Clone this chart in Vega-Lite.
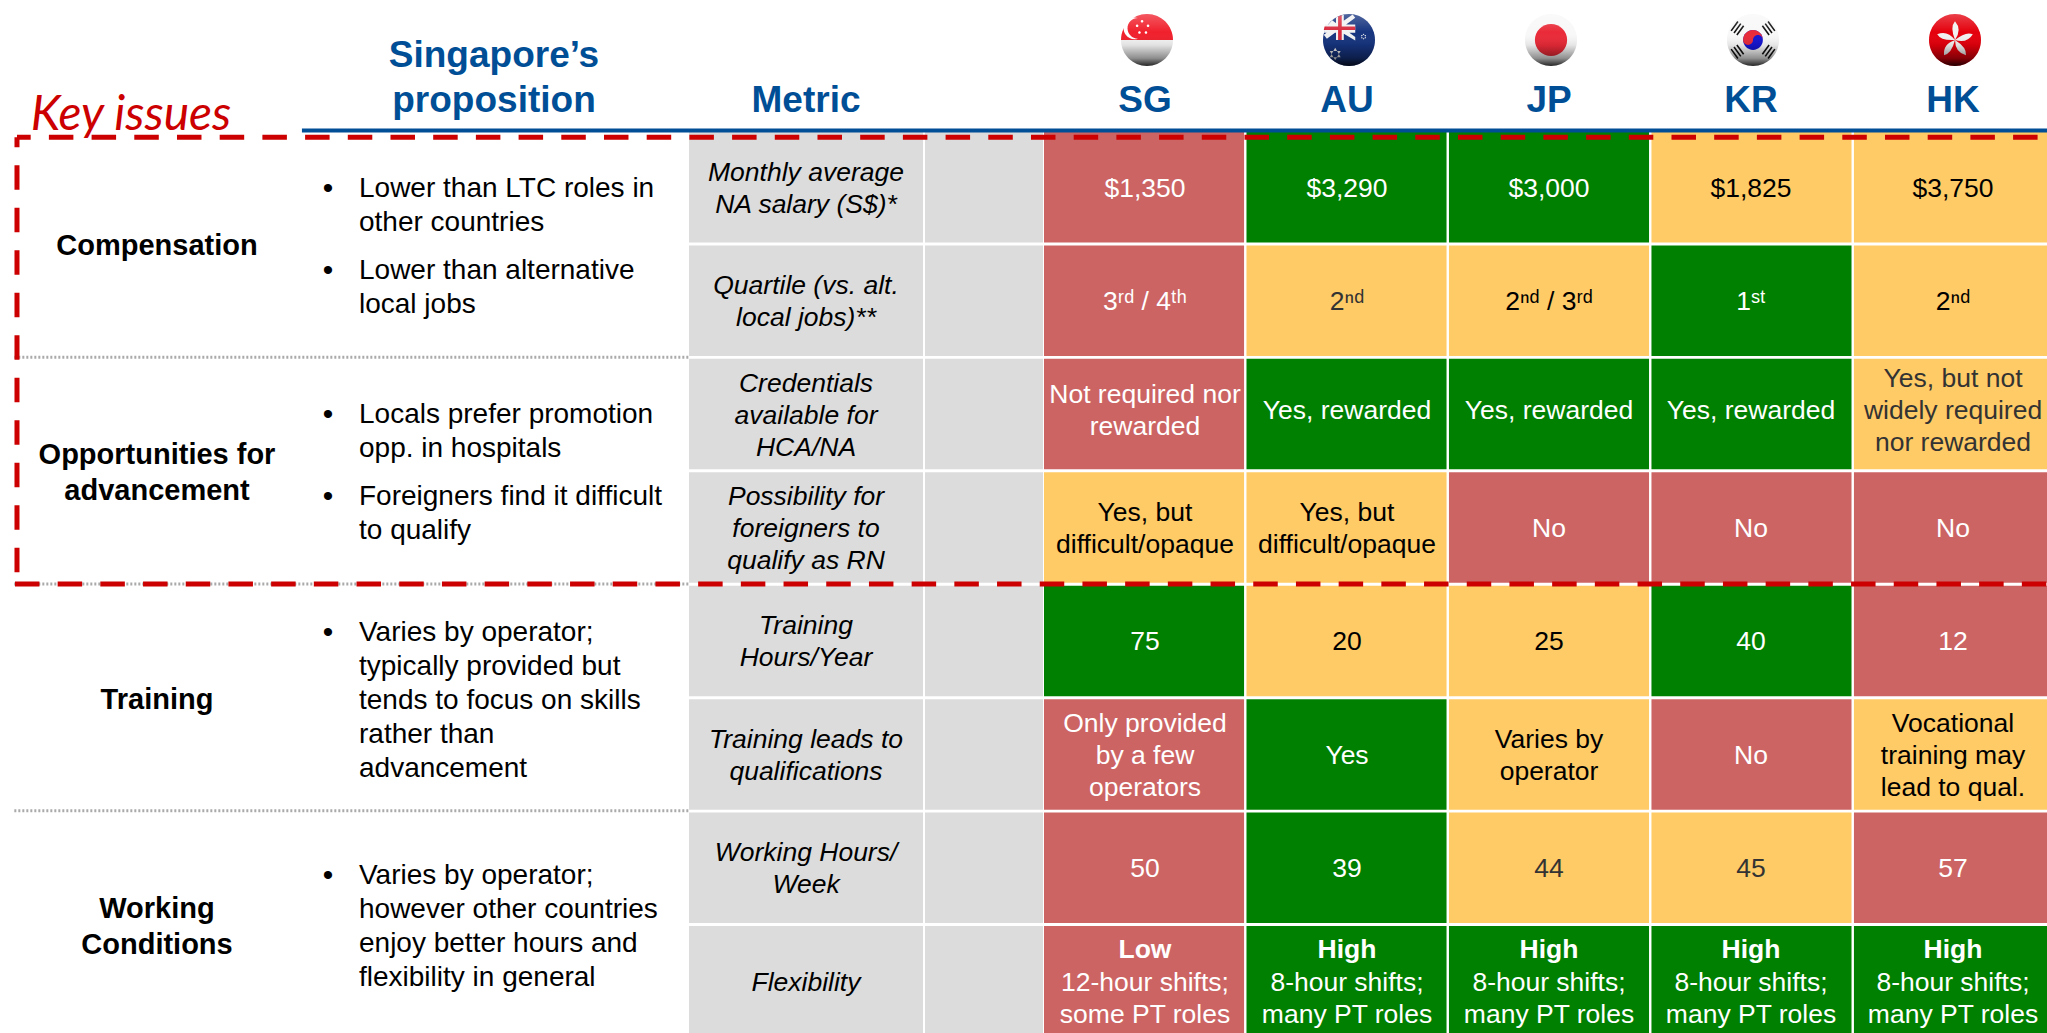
{
"$schema":"https://vega.github.io/schema/vega-lite/v6.json",
"width":2047,"height":1033,"padding":0,"autosize":{"type":"none"},"background":"white",
"config":{"view":{"stroke":null},"axis":{"disable":true},"legend":{"disable":true}},
"resolve":{"scale":{"x":"independent","y":"independent","yOffset":"independent","color":"independent","fill":"independent","stroke":"independent","shape":"independent"}},
"datasets":{
"metrics":[
{"metric":"Monthly average NA salary (S$)*","label":"Monthly average\nNA salary (S$)*","lines":2},
{"metric":"Quartile (vs. alt. local jobs)**","label":"Quartile (vs. alt.\nlocal jobs)**","lines":2},
{"metric":"Credentials available for HCA/NA","label":"Credentials\navailable for\nHCA/NA","lines":3},
{"metric":"Possibility for foreigners to qualify as RN","label":"Possibility for\nforeigners to\nqualify as RN","lines":3},
{"metric":"Training Hours/Year","label":"Training\nHours/Year","lines":2},
{"metric":"Training leads to qualifications","label":"Training leads to\nqualifications","lines":2},
{"metric":"Working Hours/Week","label":"Working Hours/\nWeek","lines":2},
{"metric":"Flexibility","label":"Flexibility","lines":1}],
"cells":[
{"metric":"Monthly average NA salary (S$)*","country":"SG","text":"$1,350","rating":"low","ink":"light","lines":1},
{"metric":"Monthly average NA salary (S$)*","country":"AU","text":"$3,290","rating":"high","ink":"light","lines":1},
{"metric":"Monthly average NA salary (S$)*","country":"JP","text":"$3,000","rating":"high","ink":"light","lines":1},
{"metric":"Monthly average NA salary (S$)*","country":"KR","text":"$1,825","rating":"mid","ink":"dark","lines":1},
{"metric":"Monthly average NA salary (S$)*","country":"HK","text":"$3,750","rating":"mid","ink":"dark","lines":1},
{"metric":"Quartile (vs. alt. local jobs)**","country":"SG","text":"3ʳᵈ / 4ᵗʰ","rating":"low","ink":"light","lines":1},
{"metric":"Quartile (vs. alt. local jobs)**","country":"AU","text":"2ⁿᵈ","rating":"mid","ink":"muted","lines":1},
{"metric":"Quartile (vs. alt. local jobs)**","country":"JP","text":"2ⁿᵈ / 3ʳᵈ","rating":"mid","ink":"dark","lines":1},
{"metric":"Quartile (vs. alt. local jobs)**","country":"KR","text":"1ˢᵗ","rating":"high","ink":"light","lines":1},
{"metric":"Quartile (vs. alt. local jobs)**","country":"HK","text":"2ⁿᵈ","rating":"mid","ink":"dark","lines":1},
{"metric":"Credentials available for HCA/NA","country":"SG","text":"Not required nor\nrewarded","rating":"low","ink":"light","lines":2},
{"metric":"Credentials available for HCA/NA","country":"AU","text":"Yes, rewarded","rating":"high","ink":"light","lines":1},
{"metric":"Credentials available for HCA/NA","country":"JP","text":"Yes, rewarded","rating":"high","ink":"light","lines":1},
{"metric":"Credentials available for HCA/NA","country":"KR","text":"Yes, rewarded","rating":"high","ink":"light","lines":1},
{"metric":"Credentials available for HCA/NA","country":"HK","text":"Yes, but not\nwidely required\nnor rewarded","rating":"mid","ink":"muted","lines":3},
{"metric":"Possibility for foreigners to qualify as RN","country":"SG","text":"Yes, but\ndifficult/opaque","rating":"mid","ink":"dark","lines":2},
{"metric":"Possibility for foreigners to qualify as RN","country":"AU","text":"Yes, but\ndifficult/opaque","rating":"mid","ink":"dark","lines":2},
{"metric":"Possibility for foreigners to qualify as RN","country":"JP","text":"No","rating":"low","ink":"light","lines":1},
{"metric":"Possibility for foreigners to qualify as RN","country":"KR","text":"No","rating":"low","ink":"light","lines":1},
{"metric":"Possibility for foreigners to qualify as RN","country":"HK","text":"No","rating":"low","ink":"light","lines":1},
{"metric":"Training Hours/Year","country":"SG","text":"75","rating":"high","ink":"light","lines":1},
{"metric":"Training Hours/Year","country":"AU","text":"20","rating":"mid","ink":"dark","lines":1},
{"metric":"Training Hours/Year","country":"JP","text":"25","rating":"mid","ink":"dark","lines":1},
{"metric":"Training Hours/Year","country":"KR","text":"40","rating":"high","ink":"light","lines":1},
{"metric":"Training Hours/Year","country":"HK","text":"12","rating":"low","ink":"light","lines":1},
{"metric":"Training leads to qualifications","country":"SG","text":"Only provided\nby a few\noperators","rating":"low","ink":"light","lines":3},
{"metric":"Training leads to qualifications","country":"AU","text":"Yes","rating":"high","ink":"light","lines":1},
{"metric":"Training leads to qualifications","country":"JP","text":"Varies by\noperator","rating":"mid","ink":"dark","lines":2},
{"metric":"Training leads to qualifications","country":"KR","text":"No","rating":"low","ink":"light","lines":1},
{"metric":"Training leads to qualifications","country":"HK","text":"Vocational\ntraining may\nlead to qual.","rating":"mid","ink":"dark","lines":3},
{"metric":"Working Hours/Week","country":"SG","text":"50","rating":"low","ink":"light","lines":1},
{"metric":"Working Hours/Week","country":"AU","text":"39","rating":"high","ink":"light","lines":1},
{"metric":"Working Hours/Week","country":"JP","text":"44","rating":"mid","ink":"muted","lines":1},
{"metric":"Working Hours/Week","country":"KR","text":"45","rating":"mid","ink":"muted","lines":1},
{"metric":"Working Hours/Week","country":"HK","text":"57","rating":"low","ink":"light","lines":1},
{"metric":"Flexibility","country":"SG","headline":"Low","text":"12-hour shifts;\nsome PT roles","rating":"low","ink":"light","lines":2},
{"metric":"Flexibility","country":"AU","headline":"High","text":"8-hour shifts;\nmany PT roles","rating":"high","ink":"light","lines":2},
{"metric":"Flexibility","country":"JP","headline":"High","text":"8-hour shifts;\nmany PT roles","rating":"high","ink":"light","lines":2},
{"metric":"Flexibility","country":"KR","headline":"High","text":"8-hour shifts;\nmany PT roles","rating":"high","ink":"light","lines":2},
{"metric":"Flexibility","country":"HK","headline":"High","text":"8-hour shifts;\nmany PT roles","rating":"high","ink":"light","lines":2}],
"groups":[
{"group":"Compensation","label":"Compensation","lines":1},
{"group":"Opportunities for advancement","label":"Opportunities for\nadvancement","lines":2},
{"group":"Training","label":"Training","lines":1},
{"group":"Working Conditions","label":"Working\nConditions","lines":2}],
"bullets":[
{"group":"Compensation","order":"first","text":"Lower than LTC roles in\nother countries","glyph":"•","lines":2},
{"group":"Compensation","order":"second","text":"Lower than alternative\nlocal jobs","glyph":"•","lines":2},
{"group":"Opportunities for advancement","order":"first","text":"Locals prefer promotion\nopp. in hospitals","glyph":"•","lines":2},
{"group":"Opportunities for advancement","order":"second","text":"Foreigners find it difficult\nto qualify","glyph":"•","lines":2},
{"group":"Training","order":"only","text":"Varies by operator;\ntypically provided but\ntends to focus on skills\nrather than\nadvancement","glyph":"•","lines":5},
{"group":"Working Conditions","order":"only","text":"Varies by operator;\nhowever other countries\nenjoy better hours and\nflexibility in general","glyph":"•","lines":4}],
"headerProp":[{"column":"Singapore's proposition","label":"Singapore’s\nproposition","lines":2}],
"headerMetric":[{"column":"Metric","label":"Metric","lines":1}],
"headerCountries":[{"country":"SG","label":"SG","lines":1},{"country":"AU","label":"AU","lines":1},{"country":"JP","label":"JP","lines":1},{"country":"KR","label":"KR","lines":1},{"country":"HK","label":"HK","lines":1}],
"flagParts":[
{"country":"SG","part":"sg red"},{"country":"SG","part":"sg white"},{"country":"SG","part":"sg crescent"},
{"country":"AU","part":"au blue"},{"country":"AU","part":"au jack white"},{"country":"AU","part":"au jack red"},{"country":"AU","part":"au stars"},
{"country":"JP","part":"jp white"},{"country":"JP","part":"jp sun"},
{"country":"KR","part":"kr white"},{"country":"KR","part":"kr blue"},{"country":"KR","part":"kr red"},
{"country":"HK","part":"hk red"},{"country":"HK","part":"hk flower"}],
"flagOverlay":[{"country":"SG"},{"country":"AU"},{"country":"JP"},{"country":"KR"},{"country":"HK"}],
"trigrams":[{"country":"KR"}],
"headerRule":[{"from":14.75,"to":100,"at":0}],
"dividers":[{"from":0.7,"to":33.66,"at":2},{"from":0.7,"to":33.66,"at":4},{"from":0.7,"to":33.66,"at":6}],
"redTop":[{"from":0.83,"to":100,"at":0.06}],
"redBottom":[{"from":0.73,"to":100,"at":4}],
"redLeft":[{"at":0.83,"from":0.06,"to":3.92}],
"keyIssues":[{"label":"Key issues"}]
},
"layer":[
{"data":{"name":"metrics"},"mark":{"type":"rect","fill":"#DCDCDC","height":{"band":1},"width":{"band":1}},
 "encoding":{"x":{"datum":"Metric","type":"nominal","scale":{"domain":["Metric"],"range":[689,923],"paddingInner":0,"paddingOuter":0}},
 "y":{"field":"metric","type":"nominal","sort":null,"scale":{"domain":["Monthly average NA salary (S$)*","Quartile (vs. alt. local jobs)**","Credentials available for HCA/NA","Possibility for foreigners to qualify as RN","Training Hours/Year","Training leads to qualifications","Working Hours/Week","Flexibility"],"range":[132,1036.5],"paddingInner":0.026,"paddingOuter":0}}}},
{"data":{"name":"metrics"},"mark":{"type":"rect","fill":"#DCDCDC","height":{"band":1},"width":{"band":1}},
 "encoding":{"x":{"datum":"Blank","type":"nominal","scale":{"domain":["Blank"],"range":[925,1043],"paddingInner":0,"paddingOuter":0}},
 "y":{"field":"metric","type":"nominal","sort":null,"scale":{"domain":["Monthly average NA salary (S$)*","Quartile (vs. alt. local jobs)**","Credentials available for HCA/NA","Possibility for foreigners to qualify as RN","Training Hours/Year","Training leads to qualifications","Working Hours/Week","Flexibility"],"range":[132,1036.5],"paddingInner":0.026,"paddingOuter":0}}}},
{"data":{"name":"cells"},"mark":{"type":"rect","height":{"band":1},"width":{"band":1}},
 "encoding":{"x":{"field":"country","type":"nominal","sort":null,"scale":{"domain":["SG","AU","JP","KR","HK"],"range":[1044,2054],"paddingInner":0.012,"paddingOuter":0}},
 "y":{"field":"metric","type":"nominal","sort":null,"scale":{"domain":["Monthly average NA salary (S$)*","Quartile (vs. alt. local jobs)**","Credentials available for HCA/NA","Possibility for foreigners to qualify as RN","Training Hours/Year","Training leads to qualifications","Working Hours/Week","Flexibility"],"range":[132,1036.5],"paddingInner":0.026,"paddingOuter":0}},
 "fill":{"field":"rating","type":"nominal","scale":{"domain":["low","mid","high"],"range":["#CC6464","#FFCB66","#008000"]}}}},
{"data":{"name":"metrics"},"mark":{"type":"text","font":"Liberation Sans","fontSize":26.5,"fontStyle":"italic","lineBreak":"\n","lineHeight":32,"align":"center","baseline":"middle","color":"#000000"},
 "encoding":{"text":{"field":"label"},"x":{"datum":"Metric","type":"nominal","scale":{"domain":["Metric"],"range":[689,923],"paddingInner":0,"paddingOuter":0}},
 "y":{"field":"metric","type":"nominal","sort":null,"scale":{"domain":["Monthly average NA salary (S$)*","Quartile (vs. alt. local jobs)**","Credentials available for HCA/NA","Possibility for foreigners to qualify as RN","Training Hours/Year","Training leads to qualifications","Working Hours/Week","Flexibility"],"range":[132,1036.5],"paddingInner":0.026,"paddingOuter":0}},
 "yOffset":{"field":"lines","type":"quantitative","scale":{"domain":[1,3],"range":[56.7,24.7],"zero":false,"nice":false}}}},
{"data":{"name":"cells"},"transform":[{"filter":"datum.metric !== 'Flexibility' && datum.metric !== 'Credentials available for HCA/NA'"}],"mark":{"type":"text","font":"Liberation Sans","fontSize":26.5,"lineBreak":"\n","lineHeight":32,"align":"center","baseline":"middle"},
 "encoding":{"text":{"field":"text"},"x":{"field":"country","type":"nominal","sort":null,"scale":{"domain":["SG","AU","JP","KR","HK"],"range":[1044,2054],"paddingInner":0.012,"paddingOuter":0}},
 "y":{"field":"metric","type":"nominal","sort":null,"scale":{"domain":["Monthly average NA salary (S$)*","Quartile (vs. alt. local jobs)**","Credentials available for HCA/NA","Possibility for foreigners to qualify as RN","Training Hours/Year","Training leads to qualifications","Working Hours/Week","Flexibility"],"range":[132,1036.5],"paddingInner":0.026,"paddingOuter":0}},
 "yOffset":{"field":"lines","type":"quantitative","scale":{"domain":[1,3],"range":[56.7,24.7],"zero":false,"nice":false}},
 "color":{"field":"ink","type":"nominal","scale":{"domain":["light","dark","muted"],"range":["#FFFFFF","#000000","#333333"]}}}},
{"data":{"name":"cells"},"transform":[{"filter":"datum.metric === 'Credentials available for HCA/NA'"}],"mark":{"type":"text","font":"Liberation Sans","fontSize":26.5,"lineBreak":"\n","lineHeight":32,"align":"center","baseline":"middle","dy":-4.5},
 "encoding":{"text":{"field":"text"},"x":{"field":"country","type":"nominal","sort":null,"scale":{"domain":["SG","AU","JP","KR","HK"],"range":[1044,2054],"paddingInner":0.012,"paddingOuter":0}},
 "y":{"field":"metric","type":"nominal","sort":null,"scale":{"domain":["Monthly average NA salary (S$)*","Quartile (vs. alt. local jobs)**","Credentials available for HCA/NA","Possibility for foreigners to qualify as RN","Training Hours/Year","Training leads to qualifications","Working Hours/Week","Flexibility"],"range":[132,1036.5],"paddingInner":0.026,"paddingOuter":0}},
 "yOffset":{"field":"lines","type":"quantitative","scale":{"domain":[1,3],"range":[56.7,24.7],"zero":false,"nice":false}},
 "color":{"field":"ink","type":"nominal","scale":{"domain":["light","dark","muted"],"range":["#FFFFFF","#000000","#333333"]}}}},
{"data":{"name":"cells"},"transform":[{"filter":"datum.metric === 'Flexibility'"}],"mark":{"type":"text","font":"Liberation Sans","fontSize":26.5,"lineBreak":"\n","lineHeight":32,"align":"center","baseline":"middle","dy":3,"color":"#FFFFFF"},
 "encoding":{"text":{"field":"text"},"x":{"field":"country","type":"nominal","sort":null,"scale":{"domain":["SG","AU","JP","KR","HK"],"range":[1044,2054],"paddingInner":0.012,"paddingOuter":0}},
 "y":{"field":"metric","type":"nominal","sort":null,"scale":{"domain":["Monthly average NA salary (S$)*","Quartile (vs. alt. local jobs)**","Credentials available for HCA/NA","Possibility for foreigners to qualify as RN","Training Hours/Year","Training leads to qualifications","Working Hours/Week","Flexibility"],"range":[132,1036.5],"paddingInner":0.026,"paddingOuter":0}}}},
{"data":{"name":"cells"},"transform":[{"filter":"datum.metric === 'Flexibility'"}],"mark":{"type":"text","font":"Liberation Sans","fontSize":26.5,"fontWeight":"bold","align":"center","baseline":"middle","dy":-30,"color":"#FFFFFF"},
 "encoding":{"text":{"field":"headline"},"x":{"field":"country","type":"nominal","sort":null,"scale":{"domain":["SG","AU","JP","KR","HK"],"range":[1044,2054],"paddingInner":0.012,"paddingOuter":0}},
 "y":{"field":"metric","type":"nominal","sort":null,"scale":{"domain":["Monthly average NA salary (S$)*","Quartile (vs. alt. local jobs)**","Credentials available for HCA/NA","Possibility for foreigners to qualify as RN","Training Hours/Year","Training leads to qualifications","Working Hours/Week","Flexibility"],"range":[132,1036.5],"paddingInner":0.026,"paddingOuter":0}}}},
{"data":{"name":"groups"},"mark":{"type":"text","font":"Liberation Sans","fontSize":29,"fontWeight":"bold","lineBreak":"\n","lineHeight":36,"align":"center","baseline":"middle","color":"#000000"},
 "encoding":{"text":{"field":"label"},"x":{"datum":"Key issue","type":"nominal","scale":{"domain":["Key issue"],"range":[0,314],"paddingInner":0,"paddingOuter":0}},
 "y":{"field":"group","type":"nominal","sort":null,"scale":{"domain":["Compensation","Opportunities for advancement","Training","Working Conditions"],"range":[132,1039],"paddingInner":0,"paddingOuter":0}},
 "yOffset":{"field":"lines","type":"quantitative","scale":{"domain":[1,2],"range":[114.4,96.4],"zero":false,"nice":false}}}},
{"data":{"name":"bullets"},"transform":[{"filter":"datum.order !== 'only'"}],"mark":{"type":"text","font":"Liberation Sans","fontSize":28,"lineBreak":"\n","lineHeight":34,"align":"left","baseline":"middle","color":"#000000"},
 "encoding":{"text":{"field":"text"},"x":{"datum":"Proposition","type":"nominal","scale":{"domain":["Proposition"],"range":[30,688],"paddingInner":0,"paddingOuter":0}},
 "y":{"field":"group","type":"nominal","sort":null,"scale":{"domain":["Compensation","Opportunities for advancement","Training","Working Conditions"],"range":[132,1039],"paddingInner":0,"paddingOuter":0}},
 "yOffset":{"field":"order","type":"nominal","sort":null,"scale":{"type":"point","padding":0,"domain":["first","second"],"range":[56.6,138.6]}}}},
{"data":{"name":"bullets"},"transform":[{"filter":"datum.order !== 'only'"}],"mark":{"type":"text","font":"Liberation Sans","fontSize":30,"align":"center","baseline":"middle","color":"#000000"},
 "encoding":{"text":{"field":"glyph"},"x":{"datum":"Bullet","type":"nominal","scale":{"domain":["Bullet"],"range":[318,338],"paddingInner":0,"paddingOuter":0}},
 "y":{"field":"group","type":"nominal","sort":null,"scale":{"domain":["Compensation","Opportunities for advancement","Training","Working Conditions"],"range":[132,1039],"paddingInner":0,"paddingOuter":0}},
 "yOffset":{"field":"order","type":"nominal","sort":null,"scale":{"type":"point","padding":0,"domain":["first","second"],"range":[56.6,138.6]}}}},
{"data":{"name":"bullets"},"transform":[{"filter":"datum.order === 'only'"}],"mark":{"type":"text","font":"Liberation Sans","fontSize":28,"lineBreak":"\n","lineHeight":34,"align":"left","baseline":"middle","color":"#000000"},
 "encoding":{"text":{"field":"text"},"x":{"datum":"Proposition","type":"nominal","scale":{"domain":["Proposition"],"range":[30,688],"paddingInner":0,"paddingOuter":0}},
 "y":{"field":"group","type":"nominal","sort":null,"scale":{"domain":["Compensation","Opportunities for advancement","Training","Working Conditions"],"range":[132,1039],"paddingInner":0,"paddingOuter":0}},
 "yOffset":{"field":"lines","type":"quantitative","scale":{"domain":[4,5],"range":[64,47],"zero":false,"nice":false}}}},
{"data":{"name":"bullets"},"transform":[{"filter":"datum.order === 'only'"}],"mark":{"type":"text","font":"Liberation Sans","fontSize":30,"align":"center","baseline":"middle","color":"#000000"},
 "encoding":{"text":{"field":"glyph"},"x":{"datum":"Bullet","type":"nominal","scale":{"domain":["Bullet"],"range":[318,338],"paddingInner":0,"paddingOuter":0}},
 "y":{"field":"group","type":"nominal","sort":null,"scale":{"domain":["Compensation","Opportunities for advancement","Training","Working Conditions"],"range":[132,1039],"paddingInner":0,"paddingOuter":0}},
 "yOffset":{"field":"lines","type":"quantitative","scale":{"domain":[4,5],"range":[64,47],"zero":false,"nice":false}}}},
{"data":{"name":"headerProp"},"mark":{"type":"text","font":"Liberation Sans","fontSize":37,"fontWeight":"bold","lineBreak":"\n","lineHeight":45,"align":"center","baseline":"alphabetic","color":"#004F96"},
 "encoding":{"text":{"field":"label"},
 "x":{"field":"column","type":"nominal","scale":{"domain":["Singapore's proposition"],"range":[300,688],"paddingInner":0,"paddingOuter":0}},
 "y":{"datum":"Header","type":"nominal","scale":{"domain":["Header"],"range":[47,87],"paddingInner":0,"paddingOuter":0}}}},
{"data":{"name":"headerMetric"},"mark":{"type":"text","font":"Liberation Sans","fontSize":37,"fontWeight":"bold","align":"center","baseline":"alphabetic","color":"#004F96"},
 "encoding":{"text":{"field":"label"},
 "x":{"field":"column","type":"nominal","scale":{"domain":["Metric"],"range":[689,923],"paddingInner":0,"paddingOuter":0}},
 "y":{"datum":"Header","type":"nominal","scale":{"domain":["Header"],"range":[92,132],"paddingInner":0,"paddingOuter":0}}}},
{"data":{"name":"headerCountries"},"mark":{"type":"text","font":"Liberation Sans","fontSize":37,"fontWeight":"bold","align":"center","baseline":"alphabetic","color":"#004F96"},
 "encoding":{"text":{"field":"label"},
 "x":{"field":"country","type":"nominal","sort":null,"scale":{"domain":["SG","AU","JP","KR","HK"],"range":[1044,2054],"paddingInner":0.012,"paddingOuter":0}},
 "y":{"datum":"Header","type":"nominal","scale":{"domain":["Header"],"range":[92,132],"paddingInner":0,"paddingOuter":0}}}},
{"data":{"name":"keyIssues"},"mark":{"type":"text","font":"Lato","fontSize":48,"fontStyle":"italic","letterSpacing":1,"align":"center","baseline":"alphabetic","color":"#CC0000"},
 "encoding":{"text":{"field":"label"},
 "x":{"datum":"Key","type":"nominal","scale":{"domain":["Key"],"range":[26,236],"paddingInner":0,"paddingOuter":0}},
 "y":{"datum":"Key","type":"nominal","scale":{"domain":["Key"],"range":[120,140],"paddingInner":0,"paddingOuter":0}}}},
{"data":{"name":"flagParts"},"mark":{"type":"point","filled":true,"size":2704,"opacity":1,"strokeWidth":0},
 "encoding":{"x":{"field":"country","type":"nominal","sort":null,"scale":{"domain":["SG","AU","JP","KR","HK"],"range":[1046,2056],"paddingInner":0.012,"paddingOuter":0}},
 "y":{"datum":"Flag","type":"nominal","scale":{"domain":["Flag"],"range":[14,66],"paddingInner":0,"paddingOuter":0}},
 "fill":{"field":"part","type":"nominal","scale":{"domain":["sg red","sg white","sg crescent","au blue","au jack white","au jack red","au stars","jp white","jp sun","kr white","kr blue","kr red","hk red","hk flower"],
 "range":["#F0202C","#F4F4F4","#FFFFFF","#16347F","#F2F2F2","#D8283C","#F0F0F0","#F8F8F8","#EA2A38","#F8F8F8","#1414D0","#E82A3A","#E4000C","#F2F2F2"]}},
 "shape":{"field":"part","type":"nominal","scale":{"domain":["sg red","sg white","sg crescent","au blue","au jack white","au jack red","au stars","jp white","jp sun","kr white","kr blue","kr red","hk red","hk flower"],
 "range":[
 "M-1,0A1,1 0 0,1 1,0Z",
 "M1,0A1,1 0 0,1 -1,0Z",
 "M-.35,-.85A.42,.42 0 1,0 -.35,-.05A.36,.36 0 1,1 -.35,-.85ZM-.24,-.72A.05,.05 0 1,1 -.14,-.72A.05,.05 0 1,1 -.24,-.72ZM-.01,-.55A.05,.05 0 1,1 .09,-.55A.05,.05 0 1,1 -.01,-.55ZM-.09,-.29A.05,.05 0 1,1 .01,-.29A.05,.05 0 1,1 -.09,-.29ZM-.34,-.29A.05,.05 0 1,1 -.24,-.29A.05,.05 0 1,1 -.34,-.29ZM-.43,-.55A.05,.05 0 1,1 -.33,-.55A.05,.05 0 1,1 -.43,-.55Z",
 "M-1,0A1,1 0 1,1 1,0A1,1 0 1,1 -1,0Z",
 "M-.92,-.6L.24,-.6L.24,-.28L-.96,-.28ZM-.5,-.87L-.2,-.97L-.2,0L-.5,0ZM-.85,-.05L-.97,-.2L.14,-.98L.24,-.86ZM-.8,-.6L-.65,-.76L.24,-.12L.24,.02Z",
 "M-.94,-.52L.24,-.52L.24,-.38L-.97,-.38ZM-.42,-.9L-.28,-.95L-.28,0L-.42,0Z",
 "M-.53,.3L-.32,.66L-.74,.66ZM-.53,.78L-.32,.42L-.74,.42ZM.56,-.25L.66,-.07L.46,-.07ZM.56,-.01L.66,-.19L.46,-.19Z",
 "M-1,0A1,1 0 1,1 1,0A1,1 0 1,1 -1,0Z",
 "M-.62,0A.62,.62 0 1,1 .62,0A.62,.62 0 1,1 -.62,0Z",
 "M-1,0A1,1 0 1,1 1,0A1,1 0 1,1 -1,0Z",
 "M-.38,0A.38,.38 0 1,1 .38,0A.38,.38 0 1,1 -.38,0Z",
 "M-.38,0A.38,.38 0 0,1 .38,0A.19,.19 0 0,0 0,0A.19,.19 0 0,1 -.38,0Z",
 "M-1,0A1,1 0 1,1 1,0A1,1 0 1,1 -1,0Z",
 "M0,0Q.28,-.4 0,-.72Q-.2,-.5 0,0ZM0,0Q.467,.142 .685,-.222Q.414,-.345 0,0ZM0,0Q.008,.489 .423,.582Q.456,.287 0,0ZM0,0Q-.462,.159 -.423,.582Q-.132,.523 0,0ZM0,0Q-.293,-.39 -.685,-.222Q-.538,.035 0,0Z"]}}}},
{"data":{"name":"trigrams"},"mark":{"type":"point","filled":false,"size":2704,"opacity":1,"stroke":"#111111","strokeWidth":1.6,
 "shape":"M-.62,-.19L-.36,-.55M-.73,-.27L-.47,-.63M-.84,-.35L-.58,-.71M.62,-.19L.36,-.55M.73,-.27L.47,-.63M.84,-.35L.58,-.71M-.62,.19L-.36,.55M-.73,.27L-.47,.63M-.84,.35L-.58,.71M.62,.19L.36,.55M.73,.27L.47,.63M.84,.35L.58,.71"},
 "encoding":{"x":{"field":"country","type":"nominal","sort":null,"scale":{"domain":["SG","AU","JP","KR","HK"],"range":[1046,2056],"paddingInner":0.012,"paddingOuter":0}},
 "y":{"datum":"Flag","type":"nominal","scale":{"domain":["Flag"],"range":[14,66],"paddingInner":0,"paddingOuter":0}}}},
{"data":{"name":"flagOverlay"},"mark":{"type":"point","filled":true,"size":2704,"opacity":1,"strokeWidth":0,"shape":"M-1,0A1,1 0 1,1 1,0A1,1 0 1,1 -1,0Z",
 "fill":{"gradient":"linear","x1":0,"y1":0,"x2":0,"y2":1,"stops":[{"offset":0,"color":"rgba(255,255,255,0.25)"},{"offset":0.35,"color":"rgba(255,255,255,0)"},{"offset":0.6,"color":"rgba(0,0,0,0.08)"},{"offset":0.85,"color":"rgba(0,0,0,0.42)"},{"offset":1,"color":"rgba(0,0,0,0.85)"}]}},
 "encoding":{"x":{"field":"country","type":"nominal","sort":null,"scale":{"domain":["SG","AU","JP","KR","HK"],"range":[1046,2056],"paddingInner":0.012,"paddingOuter":0}},
 "y":{"datum":"Flag","type":"nominal","scale":{"domain":["Flag"],"range":[14,66],"paddingInner":0,"paddingOuter":0}}}},
{"data":{"name":"headerRule"},"mark":{"type":"rule","stroke":"#004F96","strokeWidth":4},
 "encoding":{"x":{"field":"from","type":"quantitative","scale":{"domain":[0,100],"range":[0,2047],"nice":false,"zero":false}},"x2":{"field":"to"},
 "y":{"field":"at","type":"quantitative","scale":{"domain":[0,8],"range":[130.5,1037.5],"nice":false,"zero":false}}}},
{"data":{"name":"dividers"},"mark":{"type":"rule","stroke":"#AAAAAA","strokeWidth":3,"strokeDash":[2,2]},
 "encoding":{"x":{"field":"from","type":"quantitative","scale":{"domain":[0,100],"range":[0,2047],"nice":false,"zero":false}},"x2":{"field":"to"},
 "y":{"field":"at","type":"quantitative","scale":{"domain":[0,8],"range":[130.5,1037.5],"nice":false,"zero":false}}}},
{"data":{"name":"redTop"},"mark":{"type":"rule","stroke":"#CC0000","strokeWidth":5,"strokeDash":[24.5,18.2],"strokeDashOffset":10.8},
 "encoding":{"x":{"field":"from","type":"quantitative","scale":{"domain":[0,100],"range":[0,2047],"nice":false,"zero":false}},"x2":{"field":"to"},
 "y":{"field":"at","type":"quantitative","scale":{"domain":[0,8],"range":[130.5,1037.5],"nice":false,"zero":false}}}},
{"data":{"name":"redBottom"},"mark":{"type":"rule","stroke":"#CC0000","strokeWidth":5,"strokeDash":[24.5,18.2]},
 "encoding":{"x":{"field":"from","type":"quantitative","scale":{"domain":[0,100],"range":[0,2047],"nice":false,"zero":false}},"x2":{"field":"to"},
 "y":{"field":"at","type":"quantitative","scale":{"domain":[0,8],"range":[130.5,1037.5],"nice":false,"zero":false}}}},
{"data":{"name":"redLeft"},"mark":{"type":"rule","stroke":"#CC0000","strokeWidth":5,"strokeDash":[24.5,18],"strokeDashOffset":14.5},
 "encoding":{"x":{"field":"at","type":"quantitative","scale":{"domain":[0,100],"range":[0,2047],"nice":false,"zero":false}},
 "y":{"field":"from","type":"quantitative","scale":{"domain":[0,8],"range":[130.5,1037.5],"nice":false,"zero":false}},"y2":{"field":"to"}}}
]
}
